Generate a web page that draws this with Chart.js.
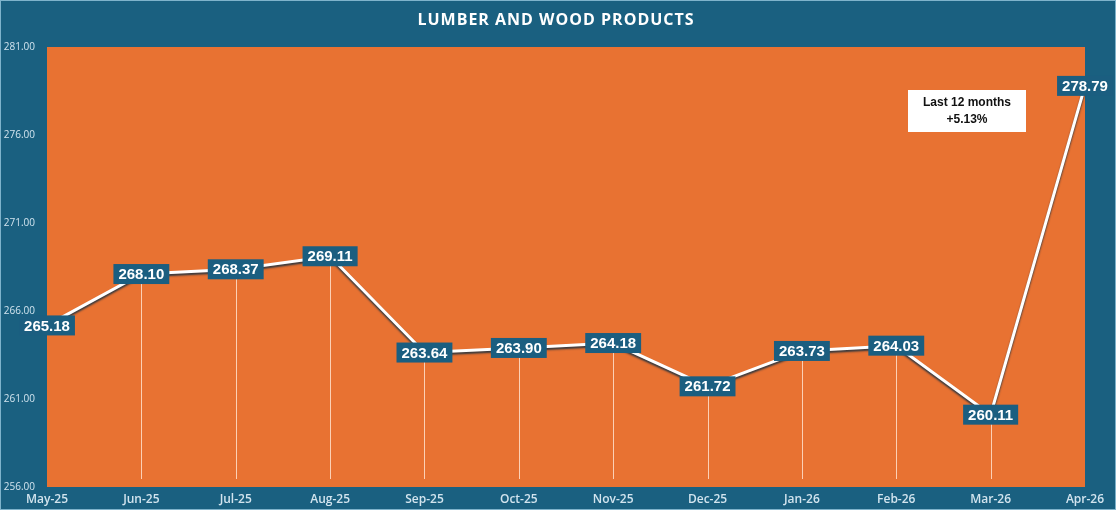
<!DOCTYPE html>
<html>
<head>
<meta charset="utf-8">
<script src="https://cdn.jsdelivr.net/npm/chart.js@4.4.1/dist/chart.umd.min.js"></script>
<style>
html,body{margin:0;padding:0;background:#1a6080;}
#wrap{width:1116px;height:510px;position:relative;}
</style>
</head>
<body>
<div id="wrap"><canvas id="c" width="1116" height="510"></canvas></div>
<script>
const categories = ['May-25','Jun-25','Jul-25','Aug-25','Sep-25','Oct-25','Nov-25','Dec-25','Jan-26','Feb-26','Mar-26','Apr-26'];
const values = [265.18, 268.10, 268.37, 269.11, 263.64, 263.90, 264.18, 261.72, 263.73, 264.03, 260.11, 278.79];
const yTicks = [256, 261, 266, 271, 276, 281];
const chartTitle = 'LUMBER AND WOOD PRODUCTS';
const noteLines = ['Last 12 months', '+5.13%'];

const BG = '#1a6080';
const ORANGE = '#e87232';
const LABEL_BG = '#1b5e80';

const bgPlugin = {
  id: 'bg',
  beforeDraw(chart) {
    const ctx = chart.ctx, a = chart.chartArea;
    ctx.save();
    ctx.fillStyle = BG;
    ctx.fillRect(0, 0, chart.width, chart.height);
    ctx.fillStyle = ORANGE;
    ctx.fillRect(a.left, a.top, a.right - a.left, a.bottom - a.top);
    ctx.restore();
  },
  beforeDatasetsDraw(chart) {
    const ctx = chart.ctx, a = chart.chartArea;
    const meta = chart.getDatasetMeta(0);
    ctx.save();
    ctx.strokeStyle = 'rgba(255,225,205,0.85)';
    ctx.lineWidth = 1;
    meta.data.forEach((p, i) => {
      if (i === 0 || i === meta.data.length - 1) return;
      ctx.beginPath();
      ctx.moveTo(Math.round(p.x) + 0.5, p.y);
      ctx.lineTo(Math.round(p.x) + 0.5, a.bottom - 8);
      ctx.stroke();
    });
    ctx.restore();
  },
  beforeDatasetDraw(chart) {
    const ctx = chart.ctx;
    ctx.save();
    ctx.shadowColor = 'rgba(15,45,65,0.85)';
    ctx.shadowOffsetY = 2;
    ctx.shadowOffsetX = 0;
    ctx.shadowBlur = 2;
  },
  afterDatasetDraw(chart) {
    chart.ctx.restore();
  },
  afterDatasetsDraw(chart) {
    const ctx = chart.ctx;
    const meta = chart.getDatasetMeta(0);
    ctx.save();
    ctx.font = 'bold 15px "Liberation Sans", Arial, sans-serif';
    ctx.textAlign = 'center';
    ctx.textBaseline = 'middle';
    meta.data.forEach((p, i) => {
      const txt = values[i].toFixed(2);
      const w = ctx.measureText(txt).width + 10;
      const h = 20;
      ctx.fillStyle = LABEL_BG;
      ctx.fillRect(p.x - w / 2, p.y - h / 2, w, h);
      ctx.fillStyle = '#ffffff';
      ctx.fillText(txt, p.x, p.y + 1);
    });
    ctx.fillStyle = '#ffffff';
    ctx.fillRect(908, 90, 118, 42);
    ctx.fillStyle = '#111111';
    ctx.font = 'bold 12px "Liberation Sans", Arial, sans-serif';
    ctx.fillText(noteLines[0], 967, 103);
    ctx.fillText(noteLines[1], 967, 120);
    ctx.fillStyle = '#ffffff';
    ctx.font = 'bold 16px "Open Sans", sans-serif';
    ctx.letterSpacing = '1px';
    ctx.fillText(chartTitle, 556, 20);
    ctx.letterSpacing = '0px';
    ctx.strokeStyle = '#7fb3cb';
    ctx.lineWidth = 1;
    ctx.strokeRect(0.5, 0.5, chart.width - 1, chart.height - 1);
    ctx.restore();
  }
};

new Chart(document.getElementById('c'), {
  type: 'line',
  data: {
    labels: categories,
    datasets: [{
      data: values,
      borderColor: '#ffffff',
      borderWidth: 3,
      pointRadius: 0,
      tension: 0,
      clip: false
    }]
  },
  options: {
    responsive: false,
    animation: false,
    devicePixelRatio: 1,
    layout: { padding: { top: 47, right: 31, left: 0, bottom: 0 } },
    plugins: { legend: { display: false }, tooltip: { enabled: false }, title: { display: false } },
    scales: {
      x: {
        offset: false,
        grid: { display: false, drawTicks: false },
        border: { display: false },
        ticks: {
          color: '#d2e4ee',
          font: { size: 12, family: '"Open Sans", sans-serif', weight: '600' },
          padding: 5,
          maxRotation: 0,
          autoSkip: false
        },
        afterFit(s) { s.height = 23; }
      },
      y: {
        min: 256, max: 281,
        grid: { display: false, drawTicks: false },
        border: { display: false },
        afterBuildTicks(s) { s.ticks = yTicks.map(v => ({ value: v })); },
        ticks: {
          color: '#d2e4ee',
          font: { size: 10, family: '"Open Sans", sans-serif' },
          padding: 12,
          callback: v => Number(v).toFixed(2)
        },
        afterFit(s) { s.width = 47; }
      }
    }
  },
  plugins: [bgPlugin]
});
</script>
</body>
</html>
